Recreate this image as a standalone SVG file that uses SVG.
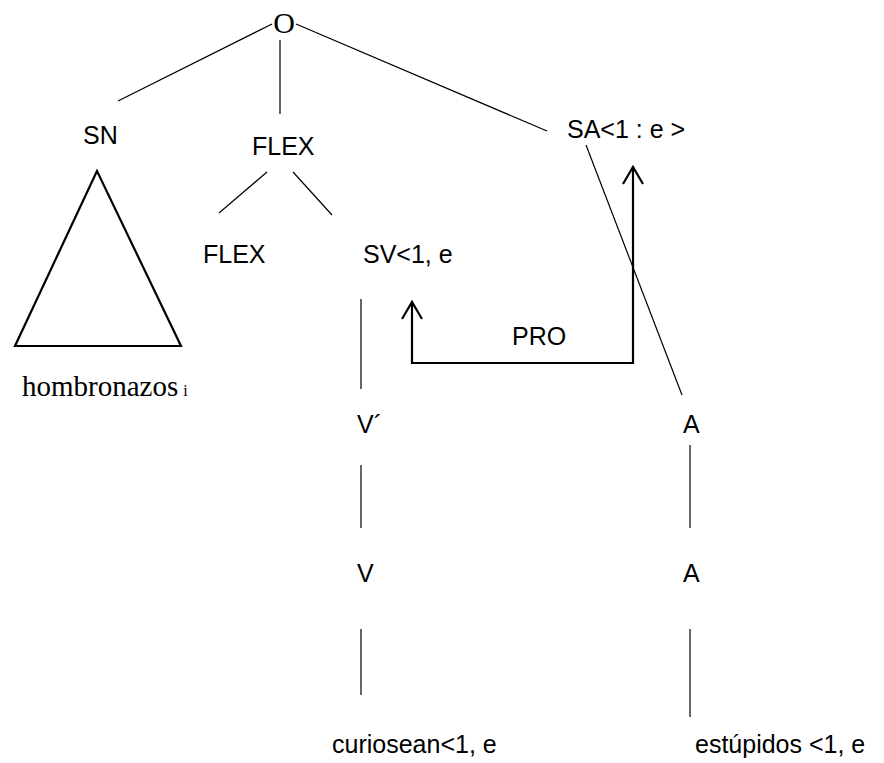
<svg xmlns="http://www.w3.org/2000/svg" width="884" height="763" viewBox="0 0 884 763">
<style>
  .lbl { font-family: "Liberation Sans", Arial, sans-serif; font-size: 25px; fill: #000; }
  .ser { font-family: "Liberation Serif", "Times New Roman", serif; fill: #000; }
  .edge { stroke: #000; stroke-width: 1.2; fill: none; }
  .thick { stroke: #000; stroke-width: 2.2; fill: none; }
</style>
<defs>
  <marker id="chev" markerWidth="24" markerHeight="24" refX="20" refY="12" orient="auto-start-reverse" markerUnits="userSpaceOnUse" viewBox="0 0 24 24">
    <path d="M3,2 L20,12 L3,22" fill="none" stroke="#000" stroke-width="2.2"/>
  </marker>
</defs>
<rect width="884" height="763" fill="#fff"/>
<g id="connectors">
  <line class="edge" x1="272" y1="24" x2="118" y2="101"/>
  <line class="edge" x1="280" y1="40" x2="280" y2="114"/>
  <line class="edge" x1="296" y1="24" x2="547" y2="131"/>
  <line class="edge" x1="267" y1="172" x2="219" y2="213"/>
  <line class="edge" x1="293" y1="172" x2="332" y2="215"/>
  <line class="edge" x1="361" y1="299" x2="361" y2="389"/>
  <line class="edge" x1="586" y1="145" x2="682" y2="395"/>
  <line class="edge" x1="361" y1="465" x2="361" y2="528"/>
  <line class="edge" x1="690" y1="445" x2="690" y2="528"/>
  <line class="edge" x1="361" y1="629" x2="361" y2="695"/>
  <line class="edge" x1="690" y1="629" x2="690" y2="717"/>
  <g id="pro-arrow">
    <path class="thick" d="M412,302 L412,363 L633,363 L633,167" marker-start="url(#chev)" marker-end="url(#chev)"/>
  </g>
</g>
<g id="node-O"><text class="ser" x="284" y="33" font-size="30" text-anchor="middle">O</text></g>
<g id="node-SN"><text class="lbl" x="83" y="144">SN</text></g>
<g id="node-triangle">
  <polygon points="97,171 15,346 181,346" fill="none" stroke="#000" stroke-width="2.2" stroke-linejoin="miter"/>
  <text class="ser" x="22" y="396" font-size="29">hombronazos<tspan font-size="16" dx="5">i</tspan></text>
</g>
<g id="node-FLEX1"><text class="lbl" x="252" y="155">FLEX</text></g>
<g id="node-SA"><text class="lbl" x="567" y="138">SA&lt;1 : e &gt;</text></g>
<g id="node-FLEX2"><text class="lbl" x="203" y="263">FLEX</text></g>
<g id="node-SV"><text class="lbl" x="363" y="263">SV&lt;1, e</text></g>
<g id="node-PRO"><text class="lbl" x="512" y="345">PRO</text></g>
<g id="node-Vbar"><text class="lbl" x="357" y="433">V´</text></g>
<g id="node-A1"><text class="lbl" x="683" y="433">A</text></g>
<g id="node-V"><text class="lbl" x="357" y="582">V</text></g>
<g id="node-A2"><text class="lbl" x="683" y="582">A</text></g>
<g id="node-curiosean"><text class="lbl" x="332" y="753">curiosean&lt;1, e</text></g>
<g id="node-estupidos"><text class="lbl" x="695" y="753">estúpidos &lt;1, e</text></g>
</svg>
